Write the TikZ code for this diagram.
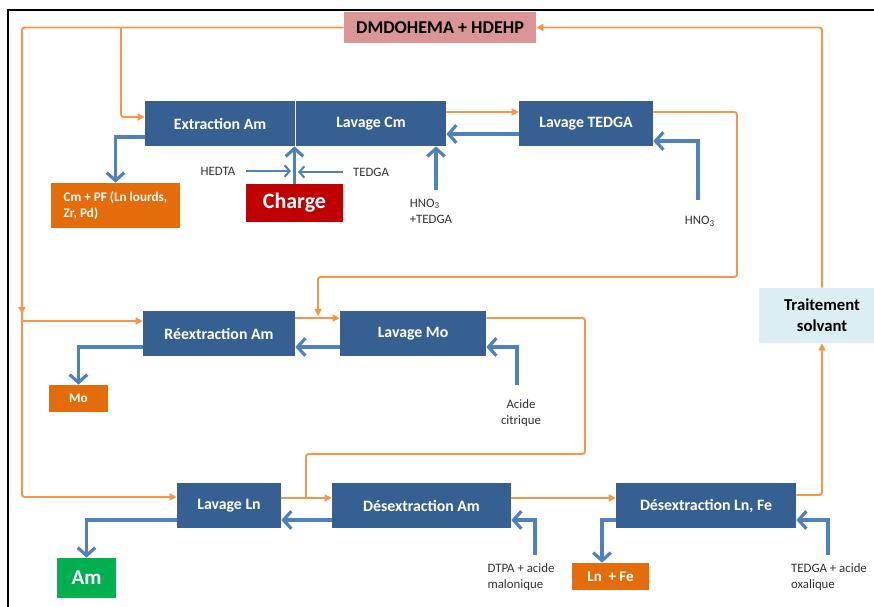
\documentclass[tikz,border=0pt]{standalone}
\usepackage{fontspec}
\setmainfont{Carlito}
\usetikzlibrary{arrows.meta,positioning,calc}
\definecolor{stageblue}{RGB}{55,96,146}
\definecolor{flowblue}{RGB}{79,129,189}
\definecolor{solvorange}{RGB}{247,150,70}
\definecolor{outorange}{RGB}{228,108,10}
\definecolor{solvpink}{RGB}{217,150,148}
\definecolor{chargered}{RGB}{192,0,0}
\definecolor{amgreen}{RGB}{0,176,80}
\definecolor{traitblue}{RGB}{219,238,243}

\begin{document}
\begin{tikzpicture}[x=0.02cm, y=-0.02cm,
stage/.style={rectangle,fill=stageblue,text=white,font=\bfseries\fontsize{9}{11}\selectfont,minimum height=0.9cm,inner sep=0pt},
outlet/.style={rectangle,fill=outorange,text=white,font=\bfseries\fontsize{7.5}{9.5}\selectfont,inner sep=0pt},
feed/.style={font=\fontsize{7.3}{9}\selectfont,text=black!80,inner sep=0pt},
solv/.style={draw=solvorange,line width=1.1pt,-{Triangle[length=4pt,width=4pt]}},
aq/.style={draw=flowblue,line width=1.8pt,-{Straight Barb[length=4.5pt,width=10pt]}},
aqthin/.style={draw=flowblue,line width=1.2pt,-{Straight Barb[length=2.8pt,width=6.5pt]}}]
\useasboundingbox (0,0) rectangle (874,606);
\draw[line width=1.3pt] (8,620) -- (8,10) -- (890,10);
\begin{scope}
\node[stage,minimum width=3cm] (extr) at (220,123.5) {Extraction Am};
\node[stage,minimum width=3cm] (lavcm) at (371,123.5) {Lavage Cm};
\node[stage,minimum width=2.68cm] (lavtedga) at (586,123.5) {Lavage TEDGA};
\node[stage,minimum width=3.04cm] (reext) at (219,333.5) {R\'eextraction Am};
\node[stage,minimum width=2.92cm] (lavmo) at (413,333.5) {Lavage Mo};
\node[stage,minimum width=2.08cm] (lavln) at (229,505.5) {Lavage Ln};
\node[stage,minimum width=3.58cm] (desam) at (421.5,505.5) {D\'esextraction Am};
\node[stage,minimum width=3.6cm] (desln) at (706,505.5) {D\'esextraction Ln, Fe};
\node[rectangle,fill=solvpink,minimum width=3.84cm,minimum height=0.62cm,font=\bfseries\fontsize{10.3}{12}\selectfont] (dm) at (440,27.5) {DMDOHEMA + HDEHP};
\node[rectangle,fill=traitblue,minimum width=2.52cm,minimum height=1.1cm,align=center,font=\bfseries\fontsize{9.5}{12}\selectfont] (trait) at (822,315.5) {Traitement\\solvant};
\node[outlet,minimum width=2.58cm,minimum height=0.9cm,align=left] (cmpf) at (115.5,205.5) {Cm + PF (Ln lourds,\\Zr, Pd)};
\node[outlet,minimum width=1.18cm,minimum height=0.54cm] (mo) at (78.5,398.5) {Mo};
\node[outlet,minimum width=1.54cm,minimum height=0.54cm,font=\bfseries\fontsize{8.5}{10}\selectfont] (lnfe) at (610.5,576.5) {Ln~ + Fe};
\node[rectangle,fill=chargered,text=white,minimum width=1.94cm,minimum height=0.76cm,font=\bfseries\fontsize{12.5}{14}\selectfont] (charge) at (294.5,203) {Charge};
\node[rectangle,fill=amgreen,text=white,minimum width=1.18cm,minimum height=0.8cm,font=\bfseries\fontsize{12}{14}\selectfont] (am) at (86.5,578) {Am};
\end{scope}
\begin{scope}[every node/.style={feed}]
\node (hedta) at (218,171) {HEDTA};
\node (tedga) at (371,172) {TEDGA};
\node[align=left] (hno3cm) at (431,211) {HNO\textsubscript{3}\\+TEDGA};
\node (hno3) at (700,221) {HNO\textsubscript{3}};
\node[align=center] (citr) at (521,413) {Acide\\citrique};
\node[align=left] (dtpa) at (521,577) {DTPA + acide\\malonique};
\node[align=left] (oxal) at (829,577) {TEDGA + acide\\oxalique};
\coordinate (inCm) at (436,190);
\coordinate (inTedga) at (698,200);
\coordinate (inMo) at (517,385);
\coordinate (inAm) at (535,555);
\coordinate (inLn) at (828,555);
\end{scope}
% solvant
\begin{scope}[rounded corners=1.5pt]
\draw[solv] (dm.west) -| (22,497) -- (lavln.west |- 0,497);
\draw[solv] (22,290) -- (22,314);
\draw[solv] (22,321) -- (reext.west |- 0,321);
\draw[solv] (121,27.5) |- (extr.west |- 0,117);
\draw[solv] (lavcm.east |- 0,112) -- (lavtedga.west |- 0,112);
\draw[solv] (lavtedga.east |- 0,112) -| (737,277) -| (318,316);
\draw[solv] (reext.east |- 0,318) -- (lavmo.west |- 0,318);
\draw[solv,-] (lavmo.east |- 0,318) -| (585,454) -| (306,498);
\draw[solv] (lavln.east |- 0,498) -- (desam.west |- 0,498);
\draw[solv] (desam.east |- 0,498) -- (desln.west |- 0,498);
\draw[solv] (desln.east |- 0,495) -| (trait.south);
\draw[solv] (trait.north) |- (dm.east);
\end{scope}
% phases aqueuses
\draw[aq] (extr.west |- 0,137) -| (cmpf.north);
\draw[aq] (charge.north) -- (charge.north |- extr.south);
\draw[aqthin] ([xshift=0.2cm]hedta.east) -- ([xshift=-2pt]charge.north |- hedta.east);
\draw[aqthin] ([xshift=-0.2cm]tedga.west) -- ([xshift=2pt]charge.north |- tedga.west);
\draw[aq] (inCm) -- (inCm |- lavcm.south);
\draw[aq] (lavtedga.west |- 0,134) -- (lavcm.east |- 0,134);
\draw[aq] (inTedga) |- (lavtedga.east |- 0,141);
\draw[aq] (reext.west |- 0,347) -| (mo.north);
\draw[aq] (lavmo.west |- 0,347) -- (reext.east |- 0,347);
\draw[aq] (inMo) |- (lavmo.east |- 0,347);
\draw[aq] (lavln.west |- 0,520) -| (am.north);
\draw[aq] (desam.west |- 0,520) -- (lavln.east |- 0,520);
\draw[aq] (inAm) |- (desam.east |- 0,520);
\draw[aq] (desln.west |- 0,520) -| ([xshift=-0.17cm]lnfe.north);
\draw[aq] (inLn) |- (desln.east |- 0,520);
\end{tikzpicture}
\end{document}
